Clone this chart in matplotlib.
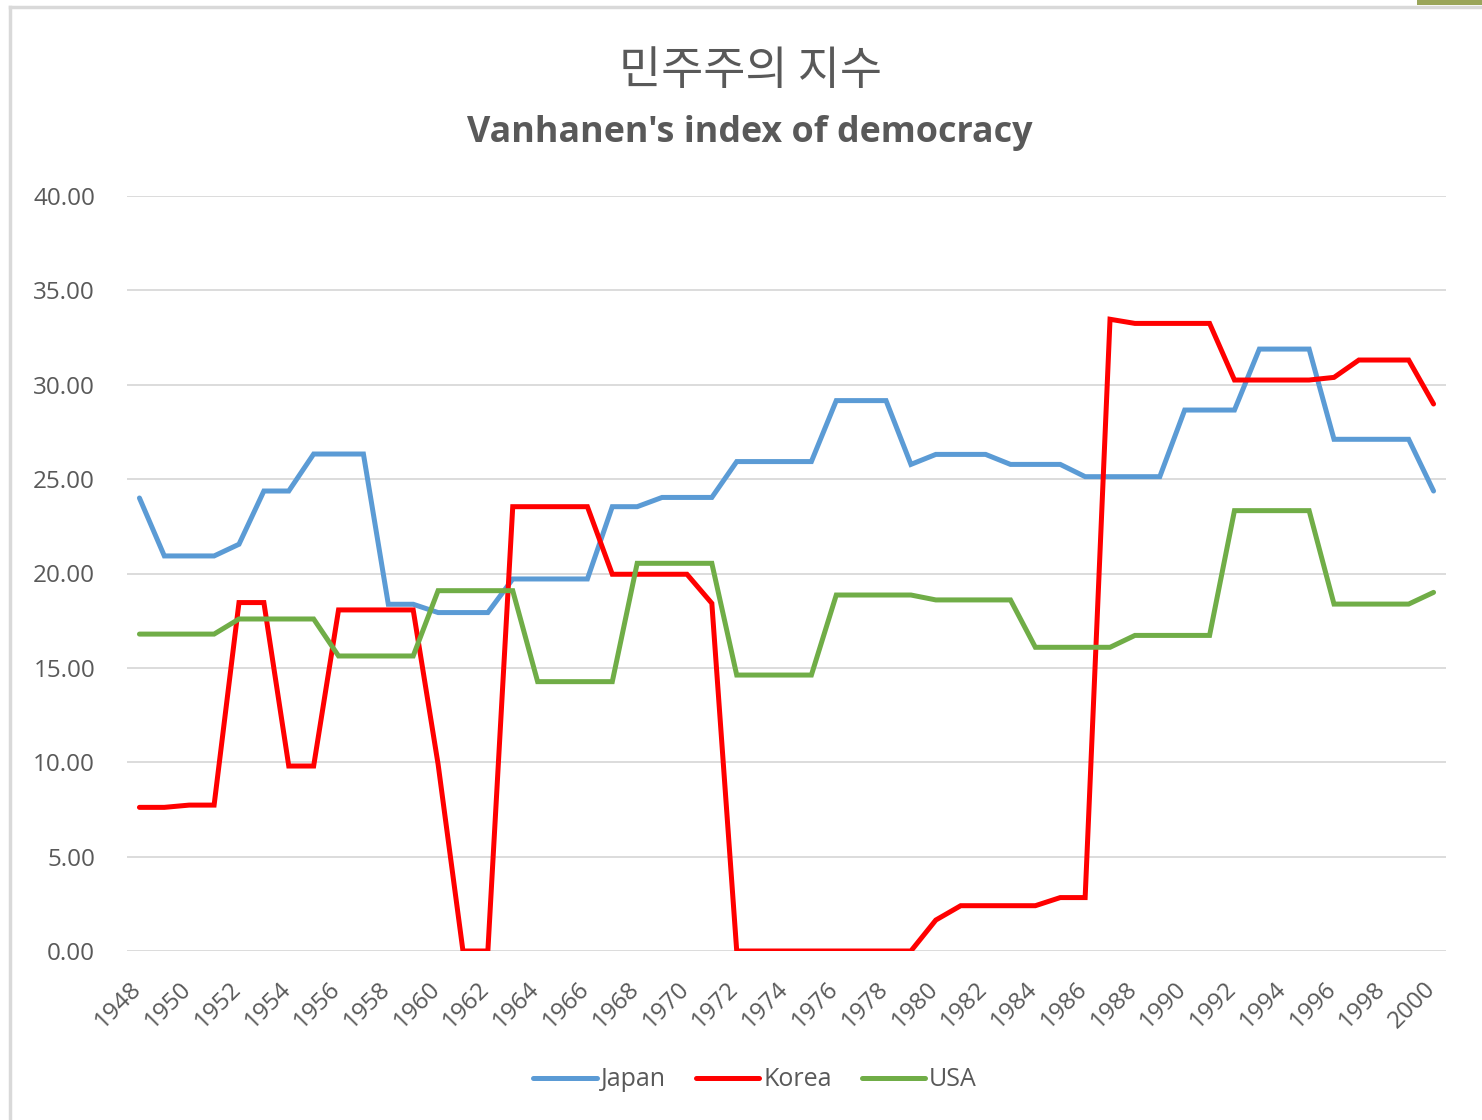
import matplotlib
matplotlib.use("Agg")
import matplotlib.pyplot as plt
import matplotlib.transforms as mtransforms
from matplotlib.lines import Line2D
from matplotlib.patches import Rectangle

years = list(range(1948, 2001))

japan = [24.0, 20.93, 20.93, 20.93, 21.55, 24.37, 24.37, 26.33, 26.33, 26.33,
         18.37, 18.37, 17.93, 17.93, 17.93, 19.71, 19.71, 19.71, 19.71, 23.54,
         23.54, 24.03, 24.03, 24.03, 25.93, 25.93, 25.93, 25.93, 29.16, 29.16,
         29.16, 25.78, 26.31, 26.31, 26.31, 25.78, 25.78, 25.78, 25.13, 25.13,
         25.13, 25.13, 28.66, 28.66, 28.66, 31.89, 31.89, 31.89, 27.11, 27.11,
         27.11, 27.11, 24.37]

korea = [7.61, 7.61, 7.73, 7.73, 18.46, 18.46, 9.80, 9.80, 18.07, 18.07,
         18.07, 18.07, 9.90, 0.0, 0.0, 23.54, 23.54, 23.54, 23.54, 19.96,
         19.96, 19.96, 19.96, 18.42, 0.0, 0.0, 0.0, 0.0, 0.0, 0.0,
         0.0, 0.0, 1.64, 2.40, 2.40, 2.40, 2.40, 2.83, 2.83, 33.47,
         33.25, 33.25, 33.25, 33.25, 30.25, 30.25, 30.25, 30.25, 30.39, 31.31,
         31.31, 31.31, 28.98]

usa = [16.79, 16.79, 16.79, 16.79, 17.59, 17.59, 17.59, 17.59, 15.63, 15.63,
       15.63, 15.63, 19.09, 19.09, 19.09, 19.09, 14.27, 14.27, 14.27, 14.27,
       20.54, 20.54, 20.54, 20.54, 14.62, 14.62, 14.62, 14.62, 18.86, 18.86,
       18.86, 18.86, 18.60, 18.60, 18.60, 18.60, 16.09, 16.09, 16.09, 16.09,
       16.72, 16.72, 16.72, 16.72, 23.33, 23.33, 23.33, 23.33, 18.38, 18.38,
       18.38, 18.38, 19.00]

series_names = ["Japan", "Korea", "USA"]
colors = ["#5B9BD5", "#FF0000", "#70AD47"]
y_ticks = [0, 5, 10, 15, 20, 25, 30, 35, 40]
x_tick_years = list(range(1948, 2001, 2))

title_kr = "민주주의 지수"
title_en = "Vanhanen's index of democracy"

W, H = 1482, 1120
fig = plt.figure(figsize=(W / 100, H / 100), dpi=100)
fig.patch.set_facecolor("white")

ax = fig.add_axes([127 / W, 1 - 951 / H, (1446 - 127) / W, (951 - 196) / H])

for vals, name, c in zip([japan, korea, usa], series_names, colors):
    ax.plot(years, vals, color=c, lw=3.6, label=name, solid_joinstyle="miter",
            solid_capstyle="round", zorder=3)

ax.set_xlim(1947.5, 2000.5)
ax.set_ylim(0, 40)
ax.set_yticks(y_ticks)
ax.set_yticklabels([f"{v:.2f}" for v in y_ticks])
ax.set_xticks(x_tick_years)
ax.set_xticklabels([str(y) for y in x_tick_years], rotation=45, ha="right", va="top")
ax.grid(axis="y", color="#D9D9D9", lw=1.3, zorder=0)
ax.grid(axis="x", visible=False)
for s in ax.spines.values():
    s.set_visible(False)
ax.tick_params(axis="both", length=0, colors="#595959")
ax.tick_params(axis="y", pad=23, labelsize=17.5)
ax.tick_params(axis="x", pad=19, labelsize=17.5)
for lbl in ax.get_yticklabels() + ax.get_xticklabels():
    lbl.set_fontfamily("Open Sans")
offset = mtransforms.ScaledTranslation(7 / 100, 0, fig.dpi_scale_trans)
for lbl in ax.get_xticklabels():
    lbl.set_transform(lbl.get_transform() + offset)

fig.text(751 / W, 1 - 71 / H, title_kr, ha="center", va="center", fontsize=33,
         color="#595959", family=["Noto Sans CJK KR", "DejaVu Sans"])
fig.text(750 / W, 1 - 133 / H, title_en, ha="center", va="center", fontsize=25.8,
         color="#595959", fontweight="bold", family="Open Sans")

leg = ax.legend(loc="center", bbox_to_anchor=(755 / W, 1 - 1080 / H),
                bbox_transform=fig.transFigure, ncol=3, frameon=False,
                handlelength=2.55, handletextpad=0.15, columnspacing=1.2,
                prop={"family": "Open Sans", "size": 18})
for t in leg.get_texts():
    t.set_color("#595959")

# outer frame of the chart area
fig.add_artist(Line2D([10 / W, 1], [1 - 7 / H, 1 - 7 / H], transform=fig.transFigure,
                      color="#D9D9D9", lw=2.5))
fig.add_artist(Line2D([10 / W, 10 / W], [0, 1 - 7 / H], transform=fig.transFigure,
                      color="#D9D9D9", lw=2.5))
fig.add_artist(Rectangle((1417 / W, 1 - 5 / H), (W - 1417) / W, 5 / H,
                         transform=fig.transFigure, color="#9AA55A", lw=0))

fig.savefig("out.png", dpi=100, facecolor="white")
